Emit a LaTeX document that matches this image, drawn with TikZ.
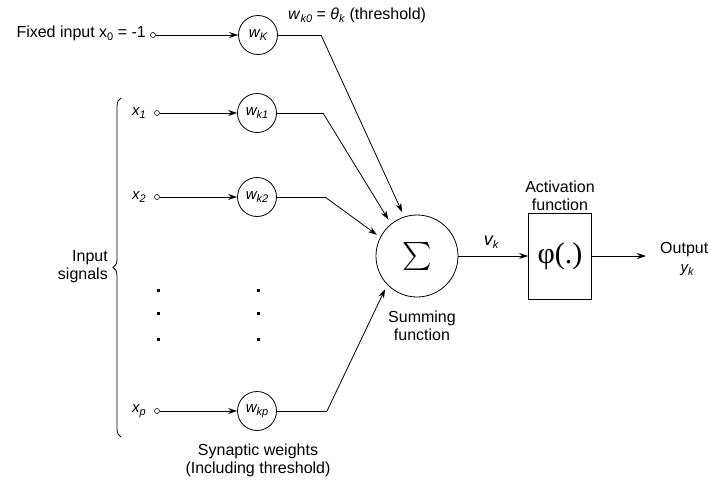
\documentclass[tikz,border=0pt]{standalone}
\usepackage{fontspec}
\setmainfont{Liberation Sans}
\newfontfamily\seriffont{Liberation Serif}
\usetikzlibrary{arrows.meta,decorations.pathreplacing}
\newcommand{\lsub}[1]{\raisebox{-0.35ex}{\fontsize{11}{11}\selectfont #1}}
\begin{document}
\begin{tikzpicture}[x=1pt,y=-1pt,
  lbl/.style={font=\fontsize{16}{18}\selectfont, inner sep=0pt},
  ilbl/.style={font=\fontsize{15}{15}\selectfont\itshape, inner sep=0pt},
  wt/.style={draw, circle, minimum size=39pt, inner sep=0pt, line width=0.8pt, font=\fontsize{15}{15}\selectfont\itshape},
  inp/.style={draw, circle, minimum size=5pt, inner sep=0pt, line width=0.6pt},
  arr/.style={-{Stealth[length=9pt,width=6pt]}, line width=0.8pt},
  ln/.style={line width=0.8pt},
  dotsq/.style={fill=black, minimum size=3pt, inner sep=0pt}]
\useasboundingbox (0,0) rectangle (709,479);

% fixed input
\node[lbl, anchor=east] (fixed) at (146,33) {Fixed input x\lsub{0} = -1};
\node[inp] (c0) at (153,35) {};
\node[wt] (wK) at (258,35) {w\lsub{K}};
\coordinate (b0) at (321,35);
\node[lbl, anchor=west] (thr) at (288,15) {\textit{w}\lsub{\textit{k0}} = \textit{θ}\lsub{\textit{k}} (threshold)};

% inputs
\node[ilbl] (x1) at (139,113) {x\lsub{1}};
\node[inp] (c1) at (157,113) {};
\node[wt] (w1) at (257,113) {w\lsub{k1}};
\coordinate (b1) at (323,113);

\node[ilbl] (x2) at (139,197) {x\lsub{2}};
\node[inp] (c2) at (157,197) {};
\node[wt] (w2) at (257,197) {w\lsub{k2}};
\coordinate (b2) at (325,197);

\node[ilbl] (xp) at (139,411) {x\lsub{p}};
\node[inp] (cp) at (157,411) {};
\node[wt] (wp) at (257,411) {w\lsub{kp}};
\coordinate (bp) at (327,411);

% dots
\foreach \yy in {290,313,339} {
  \node[dotsq] at (158,\yy) {};
  \node[dotsq] at (258,\yy) {};
}

% brace
\coordinate (bb) at (121,437);
\coordinate (bt) at (121,98);
\draw[decorate, decoration={brace, amplitude=8pt}, line width=0.8pt] (bb) -- (bt);
\node[lbl, align=right, anchor=east] (insig) at (108,267) {Input\\signals};

% summing
\node[draw, circle, minimum size=82pt, inner sep=0pt, line width=0.8pt] (sum) at (417,256) {\scalebox{2.8}{$\sum$}};
\node[lbl, align=center] (sumlbl) at (422,326) {Summing\\function};

% activation
\node[draw, minimum width=63pt, minimum height=86pt, inner sep=0pt, line width=0.8pt] (phi) at (560,256) {\seriffont\fontsize{30}{30}\selectfont φ(.)};
\node[lbl, align=center] (actlbl) at (560,196) {Activation\\function};
\node[font=\fontsize{18}{18}\selectfont\itshape, inner sep=0pt] (vk) at (491,242) {v\lsub{k}};

% output
\coordinate (out) at (646,256);
\node[lbl, anchor=west] (outl) at (660,250) {Output};
\node[ilbl] (yk) at (687,270) {y\lsub{k}};

\node[lbl, align=center] (syn) at (258,460) {Synaptic weights\\(Including threshold)};

% connectors
\draw[arr] (c0) -- (wK);
\draw[arr] (c1) -- (w1);
\draw[arr] (c2) -- (w2);
\draw[arr] (cp) -- (wp);
\draw[ln] (wK) -- (b0);
\draw[ln] (w1) -- (b1);
\draw[ln] (w2) -- (b2);
\draw[ln] (wp) -- (bp);
\draw[arr, shorten >=5pt] (b0) -- (sum.108);
\draw[arr, shorten >=5pt] (b1) -- (sum.129);
\draw[arr, shorten >=4pt] (b2) -- (sum.153);
\draw[arr, shorten >=5pt] (bp) -- (sum.224);
\draw[arr] (sum) -- (phi);
\draw[arr] (phi) -- (out);
\end{tikzpicture}
\end{document}
